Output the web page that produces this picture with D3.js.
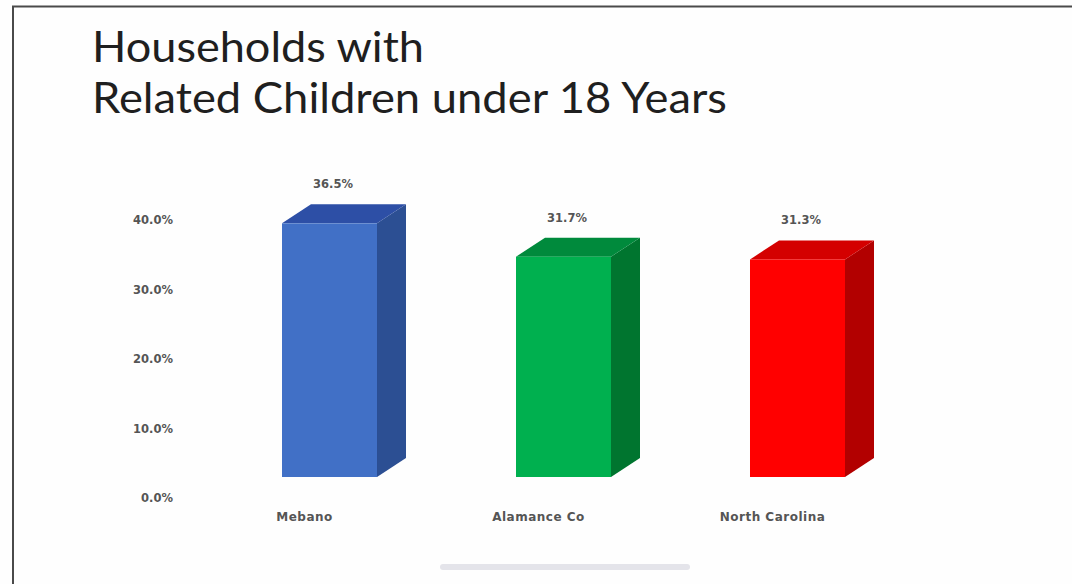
<!DOCTYPE html>
<html>
<head>
<meta charset="utf-8">
<script src="https://cdn.jsdelivr.net/npm/d3@7"></script>
<style>
html,body{margin:0;padding:0;background:#fff;}
svg{display:block;}
</style>
</head>
<body>
<svg id="chart" width="1072" height="584"></svg>
<script>
const titleLines = ["Households with", "Related Children under 18 Years"];
const categories = ["Mebano", "Alamance Co", "North Carolina"];
const values = [36.5, 31.7, 31.3];
const tickValues = [0, 10, 20, 30, 40];
const frontColors = ["#4170c6", "#00b04f", "#ff0000"];
const sideColors = ["#2c4f93", "#00752f", "#b20000"];
const topColors = ["#2d4fa6", "#008a3c", "#d40000"];

const svg = d3.select("#chart");
const W = 1072, H = 584;

svg.append("rect").attr("width", W).attr("height", H).attr("fill", "#fefefe");
// frame lines
svg.append("line").attr("x1", 12).attr("x2", W).attr("y1", 6.5).attr("y2", 6.5)
  .attr("stroke", "#4a4a4a").attr("stroke-width", 2);
svg.append("line").attr("x1", 13).attr("x2", 13).attr("y1", 6).attr("y2", H)
  .attr("stroke", "#4a4a4a").attr("stroke-width", 2);

// title
svg.append("g").selectAll("text").data(titleLines).join("text")
  .attr("x", 92).attr("y", (d, i) => 62 + i * 51)
  .attr("font-family", "Lato, 'Open Sans', sans-serif")
  .attr("font-size", 42).attr("font-weight", 400).attr("fill", "#1f1f1f")
  .attr("textLength", (d, i) => i === 0 ? 332 : 635)
  .attr("lengthAdjust", "spacingAndGlyphs")
  .text(d => d);

const dx = 29, dy = 19;
const x = d3.scaleBand().domain(categories).range([282, 845]).paddingInner(0.594).paddingOuter(0);
const y = d3.scaleLinear().domain([0, 40]).range([477, 199]);
const yLab = d3.scaleLinear().domain([0, 40]).range([498, 220]);
const bw = x.bandwidth();
const y0 = y(0);
const labelFont = "'DejaVu Sans', Verdana, sans-serif";

// axis labels
const axis = d3.axisLeft(yLab).tickValues(tickValues).tickSize(0).tickPadding(0)
  .tickFormat(v => v.toFixed(1) + "%");
const ag = svg.append("g").attr("transform", "translate(173,0)").call(axis);
ag.select(".domain").remove();
ag.selectAll("text").attr("font-family", labelFont)
  .attr("font-size", 11.5).attr("font-weight", "bold").attr("fill", "#555");

const data = categories.map((c, i) => ({c, v: values[i], i}));
const bars = svg.append("g").selectAll("g").data(data).join("g");

// right side face
bars.append("path").attr("fill", d => sideColors[d.i])
  .attr("d", d => {
    const xl = x(d.c) + bw, yt = y(d.v);
    return `M${xl},${yt}L${xl + dx},${yt - dy}L${xl + dx},${y0 - dy}L${xl},${y0}Z`;
  });
// top face
bars.append("path").attr("fill", d => topColors[d.i])
  .attr("d", d => {
    const xl = x(d.c), yt = y(d.v);
    return `M${xl},${yt}L${xl + bw},${yt}L${xl + bw + dx},${yt - dy}L${xl + dx},${yt - dy}Z`;
  });
// front face
bars.append("rect").attr("fill", d => frontColors[d.i])
  .attr("x", d => x(d.c)).attr("y", d => y(d.v))
  .attr("width", bw).attr("height", d => y0 - y(d.v));

// value labels
bars.append("text")
  .attr("x", d => x(d.c) + bw / 2 + 3.5)
  .attr("y", d => y(d.v) - dy - 16)
  .attr("text-anchor", "middle")
  .attr("font-family", labelFont)
  .attr("font-size", 11.5).attr("font-weight", "bold").attr("fill", "#555")
  .text(d => d.v.toFixed(1) + "%");

// category labels
bars.append("text")
  .attr("x", d => x(d.c) + bw / 2 - 25)
  .attr("y", 521)
  .attr("text-anchor", "middle")
  .attr("font-family", labelFont)
  .attr("font-size", 12).attr("letter-spacing", 0.5)
  .attr("font-weight", "bold").attr("fill", "#555")
  .text(d => d.c);

// faint blurred source line
svg.append("rect").attr("x", 440).attr("y", 564).attr("width", 250).attr("height", 6)
  .attr("rx", 3).attr("fill", "#e4e4ea");
</script>
</body>
</html>
